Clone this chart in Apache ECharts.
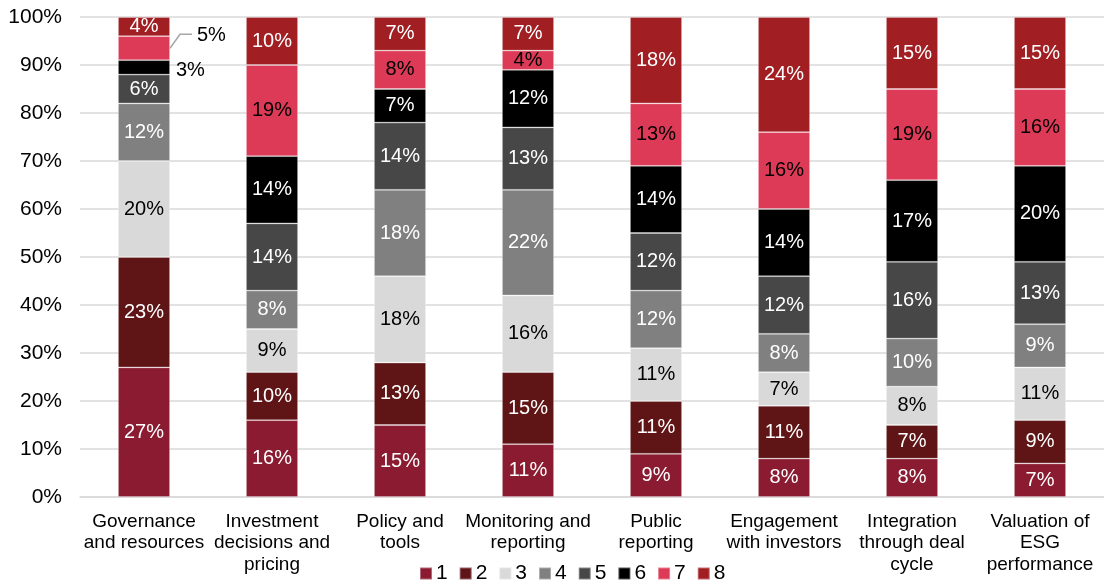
<!DOCTYPE html>
<html>
<head>
<meta charset="utf-8">
<script src="https://cdn.jsdelivr.net/npm/echarts@6/dist/echarts.min.js"></script>
<style>
  html, body { margin: 0; padding: 0; background: #fff; }
  #chart { width: 1104px; height: 583px; }
</style>
</head>
<body>
<div id="chart"></div>
<script>
// Stage categories along the x axis
const categories = [
  'Governance\nand resources',
  'Investment\ndecisions and\npricing',
  'Policy and\ntools',
  'Monitoring and\nreporting',
  'Public\nreporting',
  'Engagement\nwith investors',
  'Integration\nthrough deal\ncycle',
  'Valuation of\nESG\nperformance'
];

// Share of responses (%) per rating, one array per rating level
const rating1 = [27, 16, 15, 11, 9, 8, 8, 7];
const rating2 = [23, 10, 13, 15, 11, 11, 7, 9];
const rating3 = [20, 9, 18, 16, 11, 7, 8, 11];
const rating4 = [12, 8, 18, 22, 12, 8, 10, 9];
const rating5 = [6, 14, 14, 13, 12, 12, 16, 13];
const rating6 = [3, 14, 7, 12, 14, 14, 17, 20];
const rating7 = [5, 19, 8, 4, 13, 16, 19, 16];
const rating8 = [4, 10, 7, 7, 18, 24, 15, 15];

const seriesNames = ['1', '2', '3', '4', '5', '6', '7', '8'];
const yTicks = [0, 10, 20, 30, 40, 50, 60, 70, 80, 90, 100];

const seriesValues = [rating1, rating2, rating3, rating4, rating5, rating6, rating7, rating8];
const colors = ['#8A1B30', '#5F1416', '#D9D9D9', '#808080', '#474747', '#000000', '#DC3A56', '#A11F22'];
const labelColors = ['#fff', '#fff', '#000', '#fff', '#fff', '#fff', '#000', '#fff'];

const FONT = 'Liberation Sans, Arial, sans-serif';
const BAR_WIDTH = 52;
const CALLOUT_LIFT = 13; // how far the "5%" callout sits above its segment

const series = seriesValues.map((vals, si) => ({
  name: seriesNames[si],
  type: 'bar',
  stack: 'total',
  barWidth: BAR_WIDTH,
  itemStyle: { color: colors[si], borderColor: 'rgba(255,255,255,0.35)', borderWidth: 0.8 },
  label: {
    show: true,
    position: 'inside',
    formatter: p => p.value + '%',
    color: labelColors[si],
    fontFamily: FONT,
    fontSize: 20
  },
  labelLayout: si === 6 ? (p => (p.dataIndex === 0 ? { dy: -CALLOUT_LIFT } : {})) : undefined,
  data: vals.map((v, ci) => {
    // Thin segments in the first column carry their label beside the bar
    if (ci === 0 && si === 5) {
      return { value: v, label: { position: 'right', color: '#000', distance: 6, offset: [0, 3] } };
    }
    if (ci === 0 && si === 6) {
      return { value: v, label: { position: 'right', color: '#000', distance: 27 } };
    }
    return v;
  })
}));

const chart = echarts.init(document.getElementById('chart'), null, { renderer: 'canvas' });
chart.setOption({
  animation: false,
  color: colors,
  grid: { left: 80, right: 0, top: 17, bottom: 86 },
  legend: {
    data: seriesNames,
    top: 558,
    left: 414,
    itemWidth: 12,
    itemHeight: 12,
    itemGap: 11,
    icon: 'rect',
    textStyle: { fontFamily: FONT, fontSize: 21, color: '#000', padding: [0, 0, 0, -1] }
  },
  xAxis: {
    type: 'category',
    data: categories,
    axisLine: { lineStyle: { color: '#D9D9D9', width: 1.5 } },
    axisTick: { show: false },
    axisLabel: {
      interval: 0,
      fontFamily: FONT,
      fontSize: 19,
      color: '#000',
      lineHeight: 21.5,
      margin: 14
    }
  },
  yAxis: {
    type: 'value',
    min: 0,
    max: 100,
    interval: 10,
    axisLine: { show: false },
    axisTick: { show: false },
    splitLine: { lineStyle: { color: '#D9D9D9', width: 1.5 } },
    axisLabel: {
      formatter: v => yTicks.includes(v) ? v + '%' : '',
      fontFamily: FONT,
      fontSize: 21,
      color: '#000',
      margin: 18
    }
  },
  series: series
});

// Guide line from the middle of the first column's rating-7 segment to its lifted label
(function drawCallout() {
  const below = rating1[0] + rating2[0] + rating3[0] + rating4[0] + rating5[0] + rating6[0];
  const mid = below + rating7[0] / 2;
  const [cx, cy] = chart.convertToPixel({ xAxisIndex: 0, yAxisIndex: 0 }, [0, mid]);
  const x0 = cx + BAR_WIDTH / 2;
  const yLabel = cy - CALLOUT_LIFT - 1;
  chart.setOption({
    graphic: [{
      type: 'polyline',
      shape: { points: [[x0, cy], [x0 + 10, yLabel], [x0 + 22, yLabel]] },
      style: { stroke: '#A6A6A6', lineWidth: 1.5, fill: null },
      z: 10
    }]
  });
})();
</script>
</body>
</html>
